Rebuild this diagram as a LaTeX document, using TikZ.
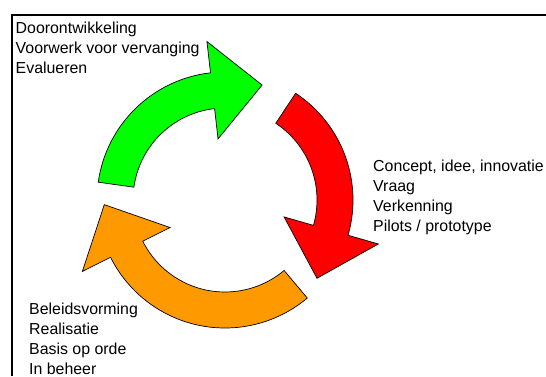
\documentclass[tikz,border=0pt]{standalone}
\usepackage{fontspec}
\setmainfont{Liberation Sans}
\usepackage{xcolor}
\definecolor{groen}{RGB}{0,255,0}
\definecolor{rood}{RGB}{255,0,0}
\definecolor{oranje}{RGB}{255,153,0}

\begin{document}
\begin{tikzpicture}[x=1pt, y=1pt,
    pijl/.style={draw=black, line width=0.7pt, line join=miter},
    fase/.style={align=left, anchor=base west, inner sep=0pt,
                 font=\fontsize{15.9}{20}\selectfont}]
  \useasboundingbox (0,0) rectangle (546,376);
  \draw[line width=2.6pt] (12,0) -- (12,361.2) -- (546,361.2);

  % kringloop rond (225,176)
  \begin{scope}[shift={(225,176)}]
    \filldraw[pijl, fill=groen] (172:128) arc[start angle=172, end angle=96.5, radius=128]
      -- (96.5:159.5) -- (72.1:120.8) -- (96.5:61.5) -- (96.5:92)
      arc[start angle=96.5, end angle=172, radius=92] -- cycle;
    \filldraw[pijl, fill=rood] (56.5:128) arc[start angle=56.5, end angle=-16, radius=128]
      -- (-16:159.5) -- (-40.4:120.8) -- (-16:61.5) -- (-16:92)
      arc[start angle=-16, end angle=56.5, radius=92] -- cycle;
    \filldraw[pijl, fill=oranje] (-50:128) arc[start angle=-50, end angle=-153.4, radius=128]
      -- (-153.4:159.5) -- (-177.8:120.8) -- (-153.4:61.5) -- (-153.4:92)
      arc[start angle=-153.4, end angle=-50, radius=92] -- cycle;
  \end{scope}

  % tekstblokken, anker = basislijn van de laatste regel
  \node[fase] (F1) at (15.5,303) {Doorontwikkeling\\Voorwerk voor vervanging\\Evalueren};
  \node[fase] (F2) at (373,145)  {Concept, idee, innovatie\\Vraag\\Verkenning\\Pilots / prototype};
  \node[fase] (F3) at (29,2)     {Beleidsvorming\\Realisatie\\Basis op orde\\In beheer};
\end{tikzpicture}
\end{document}
